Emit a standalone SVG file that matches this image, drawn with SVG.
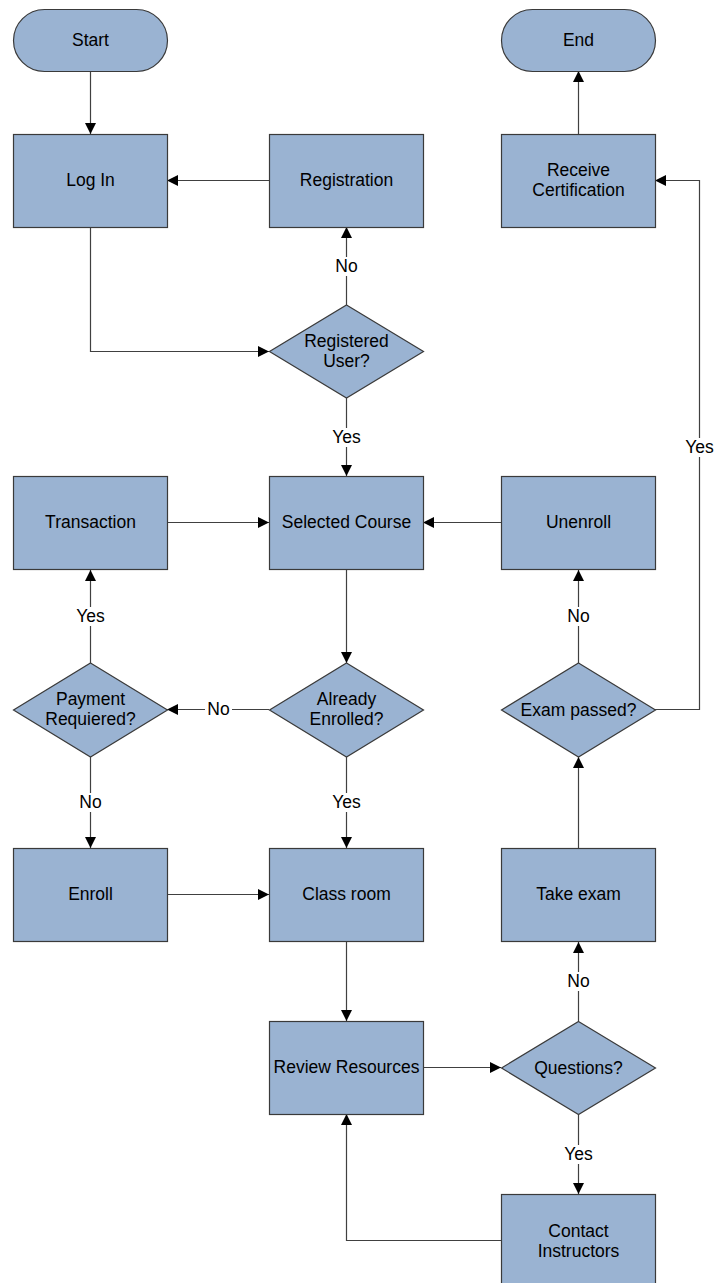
<svg xmlns="http://www.w3.org/2000/svg" width="716" height="1283" viewBox="0 0 716 1283">
<style>
.n{fill:#9AB3D2;stroke:#3a3a3a;stroke-width:1.2}
.t{font-family:"Liberation Sans",Arial,sans-serif;font-size:17.5px;fill:#000;text-anchor:middle}
.c{fill:none;stroke:#404040;stroke-width:1.2}
.bg{fill:#fff}
</style>
<defs>
<marker id="a" markerUnits="userSpaceOnUse" markerWidth="11" markerHeight="11" refX="11" refY="5.5" orient="auto">
<path d="M0,0 L11,5.5 L0,11 z" fill="#000"/>
</marker>
</defs>
<rect width="716" height="1283" fill="#fff"/>
<g id="connectors">
<path class="c" d="M90.5,71 V134" marker-end="url(#a)"/>
<path class="c" d="M269,180.5 H167" marker-end="url(#a)"/>
<path class="c" d="M90.5,227 V351.5 H269" marker-end="url(#a)"/>
<path class="c" d="M346.5,305 V227" marker-end="url(#a)"/>
<path class="c" d="M346.5,398 V476" marker-end="url(#a)"/>
<path class="c" d="M167,522.5 H269" marker-end="url(#a)"/>
<path class="c" d="M501,522.5 H423" marker-end="url(#a)"/>
<path class="c" d="M346.5,570 V663" marker-end="url(#a)"/>
<path class="c" d="M269,709.5 H167" marker-end="url(#a)"/>
<path class="c" d="M90.5,663 V570" marker-end="url(#a)"/>
<path class="c" d="M90.5,757 V848" marker-end="url(#a)"/>
<path class="c" d="M346.5,757 V848" marker-end="url(#a)"/>
<path class="c" d="M167,894.5 H269" marker-end="url(#a)"/>
<path class="c" d="M346.5,942 V1021" marker-end="url(#a)"/>
<path class="c" d="M423,1067.5 H501" marker-end="url(#a)"/>
<path class="c" d="M578.5,1114 V1194" marker-end="url(#a)"/>
<path class="c" d="M501,1240.5 H346.5 V1114" marker-end="url(#a)"/>
<path class="c" d="M578.5,1021 V942" marker-end="url(#a)"/>
<path class="c" d="M578.5,848 V757" marker-end="url(#a)"/>
<path class="c" d="M578.5,663 V570" marker-end="url(#a)"/>
<path class="c" d="M655,709.5 H699.5 V180.5 H655" marker-end="url(#a)"/>
<path class="c" d="M578.5,134 V71" marker-end="url(#a)"/>
<g id="labels">
<rect class="bg" x="333" y="257" width="27" height="19"/><text class="t" x="346.5" y="272">No</text>
<rect class="bg" x="329" y="428" width="35" height="19"/><text class="t" x="346.5" y="443">Yes</text>
<rect class="bg" x="205" y="700" width="27" height="19"/><text class="t" x="218.5" y="715">No</text>
<rect class="bg" x="73" y="607" width="35" height="19"/><text class="t" x="90.5" y="622">Yes</text>
<rect class="bg" x="77" y="793" width="27" height="19"/><text class="t" x="90.5" y="808">No</text>
<rect class="bg" x="329" y="793" width="35" height="19"/><text class="t" x="346.5" y="808">Yes</text>
<rect class="bg" x="565" y="607" width="27" height="19"/><text class="t" x="578.5" y="622">No</text>
<rect class="bg" x="682" y="438" width="35" height="19"/><text class="t" x="699.5" y="453">Yes</text>
<rect class="bg" x="565" y="972" width="27" height="19"/><text class="t" x="578.5" y="987">No</text>
<rect class="bg" x="561" y="1145" width="35" height="19"/><text class="t" x="578.5" y="1160">Yes</text>
</g>
</g>
<g id="start"><rect class="n" x="13.5" y="9.5" width="154" height="62" rx="31"/><text class="t" x="90.5" y="46">Start</text></g>
<g id="end"><rect class="n" x="501.5" y="9.5" width="154" height="62" rx="31"/><text class="t" x="578.5" y="46">End</text></g>
<g id="login"><rect class="n" x="13.5" y="134.5" width="154" height="93"/><text class="t" x="90.5" y="186">Log In</text></g>
<g id="registration"><rect class="n" x="269.5" y="134.5" width="154" height="93"/><text class="t" x="346.5" y="186">Registration</text></g>
<g id="receive"><rect class="n" x="501.5" y="134.5" width="154" height="93"/><text class="t" x="578.5" y="176">Receive</text><text class="t" x="578.5" y="196">Certification</text></g>
<g id="registered"><polygon class="n" points="346.5,305 423.5,351.5 346.5,398 269.5,351.5"/><text class="t" x="346.5" y="347">Registered</text><text class="t" x="346.5" y="367">User?</text></g>
<g id="transaction"><rect class="n" x="13.5" y="476.5" width="154" height="93"/><text class="t" x="90.5" y="528">Transaction</text></g>
<g id="selected"><rect class="n" x="269.5" y="476.5" width="154" height="93"/><text class="t" x="346.5" y="528">Selected Course</text></g>
<g id="unenroll"><rect class="n" x="501.5" y="476.5" width="154" height="93"/><text class="t" x="578.5" y="528">Unenroll</text></g>
<g id="payment"><polygon class="n" points="90.5,663 167.5,710 90.5,757 13.5,710"/><text class="t" x="90.5" y="705">Payment</text><text class="t" x="90.5" y="725">Requiered?</text></g>
<g id="already"><polygon class="n" points="346.5,663 423.5,710 346.5,757 269.5,710"/><text class="t" x="346.5" y="705">Already</text><text class="t" x="346.5" y="725">Enrolled?</text></g>
<g id="exampassed"><polygon class="n" points="578.5,663 655.5,710 578.5,757 501.5,710"/><text class="t" x="578.5" y="716">Exam passed?</text></g>
<g id="enroll"><rect class="n" x="13.5" y="848.5" width="154" height="93"/><text class="t" x="90.5" y="900">Enroll</text></g>
<g id="classroom"><rect class="n" x="269.5" y="848.5" width="154" height="93"/><text class="t" x="346.5" y="900">Class room</text></g>
<g id="takeexam"><rect class="n" x="501.5" y="848.5" width="154" height="93"/><text class="t" x="578.5" y="900">Take exam</text></g>
<g id="review"><rect class="n" x="269.5" y="1021.5" width="154" height="93"/><text class="t" x="346.5" y="1073">Review Resources</text></g>
<g id="questions"><polygon class="n" points="578.5,1021.5 655.5,1068 578.5,1114.5 501.5,1068"/><text class="t" x="578.5" y="1074">Questions?</text></g>
<g id="contact"><rect class="n" x="501.5" y="1194.5" width="154" height="93"/><text class="t" x="578.5" y="1237">Contact</text><text class="t" x="578.5" y="1257">Instructors</text></g>
</svg>
